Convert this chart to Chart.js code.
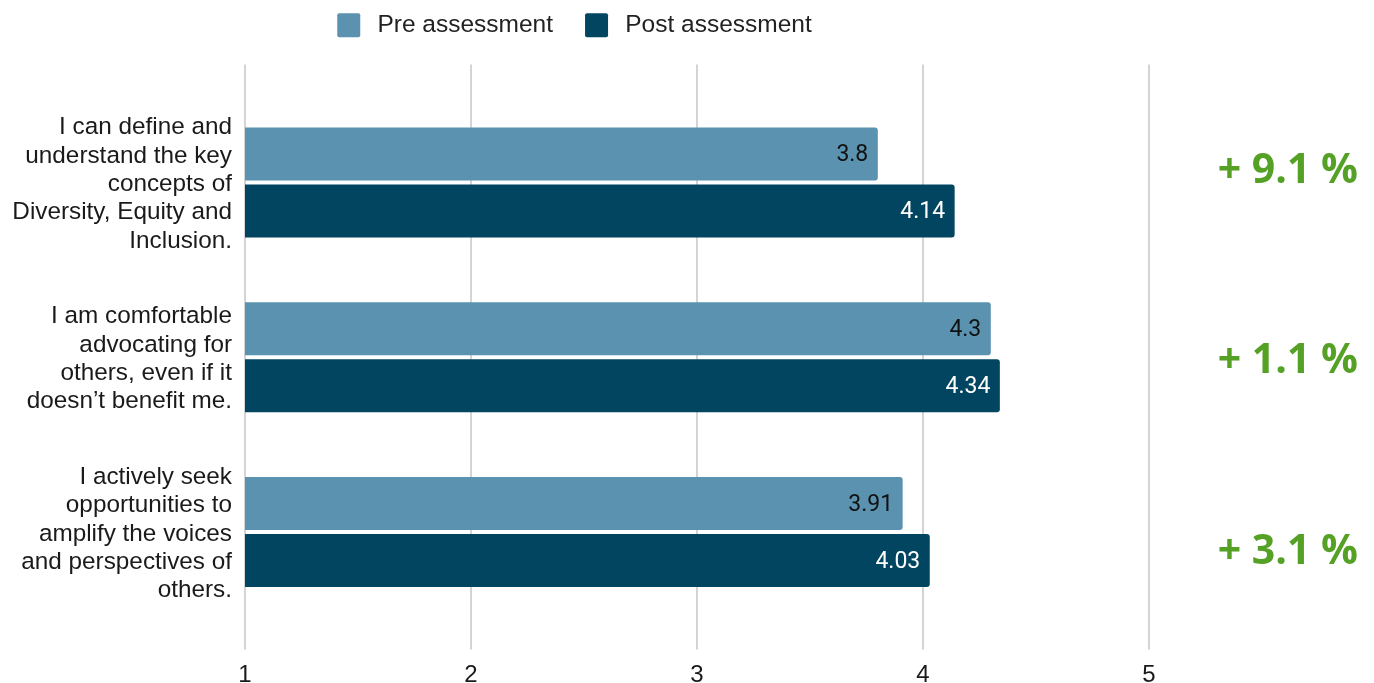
<!DOCTYPE html>
<html>
<head>
<meta charset="utf-8">
<script src="https://cdn.jsdelivr.net/npm/chart.js@4/dist/chart.umd.min.js"></script>
<style>
  html, body { margin: 0; padding: 0; background: #ffffff; }
  #wrap { width: 1374px; height: 683px; }
</style>
</head>
<body>
<div id="wrap"><canvas id="chart" width="1374" height="683"></canvas></div>
<script>
// Survey statements (multi-line y-axis labels)
const statements = [
  ["I can define and", "understand the key", "concepts of", "Diversity, Equity and", "Inclusion."],
  ["I am comfortable", "advocating for", "others, even if it", "doesn\u2019t benefit me."],
  ["I actively seek", "opportunities to", "amplify the voices", "and perspectives of", "others."]
];

// Average scores on a 1–5 scale
const preScores  = [3.8, 4.3, 3.91];
const postScores = [4.14, 4.34, 4.03];

// Improvement shown beside each statement
const gainLabels = ["+ 9.1 %", "+ 1.1 %", "+ 3.1 %"];

// Axis range
const scaleMin = 1;
const scaleMax = 5;

const PRE_COLOR  = "#5a92b0";
const POST_COLOR = "#014560";
const GRID_COLOR = "#d4d4d4";
const SANS = "'Liberation Sans', Arial, sans-serif";

// Writes each bar's value just inside its end
const valueLabels = {
  id: "valueLabels",
  afterDatasetsDraw(chart, args, opts) {
    const ctx = chart.ctx;
    ctx.save();
    ctx.font = "23px Roboto";
    ctx.textAlign = "right";
    ctx.textBaseline = "middle";
    chart.data.datasets.forEach((ds, di) => {
      const meta = chart.getDatasetMeta(di);
      meta.data.forEach((bar, i) => {
        ctx.fillStyle = opts.colors[di];
        ctx.fillText(String(ds.data[i]), bar.x - opts.inset, bar.y + 1.5);
      });
    });
    ctx.restore();
  }
};

// Green gain figures on the right-hand side
const gainText = {
  id: "gainText",
  afterDraw(chart, args, opts) {
    const ctx = chart.ctx;
    const y = chart.scales.y;
    ctx.save();
    ctx.font = "bold 41px 'Open Sans'";
    ctx.fillStyle = opts.color;
    ctx.textAlign = "right";
    ctx.textBaseline = "alphabetic";
    gainLabels.forEach((txt, i) => {
      ctx.fillText(txt, opts.right, y.getPixelForValue(i) + opts.nudge[i]);
    });
    ctx.restore();
  }
};

new Chart(document.getElementById("chart"), {
  type: "bar",
  data: {
    labels: statements,
    datasets: [
      {
        label: "Pre assessment",
        data: preScores,
        backgroundColor: PRE_COLOR,
        borderRadius: 3,
        borderSkipped: "start",
        categoryPercentage: 0.652,
        barPercentage: 0.93
      },
      {
        label: "Post assessment",
        data: postScores,
        backgroundColor: POST_COLOR,
        borderRadius: 3,
        borderSkipped: "start",
        categoryPercentage: 0.652,
        barPercentage: 0.93
      }
    ]
  },
  options: {
    indexAxis: "y",
    responsive: false,
    animation: false,
    // the legend's item padding also pads it vertically; pull it back up
    layout: { padding: { left: 0, right: 225, top: -19, bottom: 0 } },
    scales: {
      x: {
        type: "linear",
        position: "bottom",
        min: scaleMin,
        max: scaleMax,
        ticks: {
          stepSize: 1,
          padding: 11,
          color: "#1a1a1a",
          font: { family: SANS, size: 24 }
        },
        grid: { color: GRID_COLOR, lineWidth: 2, tickLength: 30, drawTicks: true },
        border: { display: false },
        afterFit(scale) { scale.height = 63.5; }
      },
      xTop: {
        type: "linear",
        position: "top",
        min: scaleMin,
        max: scaleMax,
        ticks: { display: false, stepSize: 1 },
        grid: { color: GRID_COLOR, lineWidth: 2, tickLength: 30.5, drawOnChartArea: false },
        border: { display: false },
        afterFit(scale) { scale.height = 47.5; }
      },
      y: {
        type: "category",
        offset: true,
        grid: { display: false, drawTicks: false },
        border: { display: false },
        ticks: {
          padding: 13,
          labelOffset: 2,
          color: "#1a1a1a",
          font: { family: SANS, size: 24.3, lineHeight: 1.165 }
        },
        afterFit(scale) {
          scale.width = 245;
          // labels sit inside their category bands, no overhang room needed
          scale.paddingTop = 0;
          scale.paddingBottom = 0;
        }
      }
    },
    plugins: {
      legend: {
        position: "top",
        align: "center",
        labels: {
          boxWidth: 23,
          boxHeight: 24,
          padding: 32,
          color: "#222222",
          useBorderRadius: true,
          borderRadius: 2,
          font: { family: SANS, size: 24.5 },
          generateLabels(chart) {
            return Chart.defaults.plugins.legend.labels.generateLabels(chart)
              .map(item => Object.assign(item, { text: "\u2009" + item.text }));
          }
        }
      },
      tooltip: { enabled: false },
      valueLabels: { colors: ["#111111", "#ffffff"], inset: 9.5 },
      gainText: { color: "#55a125", right: 1358, nudge: [1, 16, 32] }
    }
  },
  plugins: [valueLabels, gainText]
});
</script>
</body>
</html>
